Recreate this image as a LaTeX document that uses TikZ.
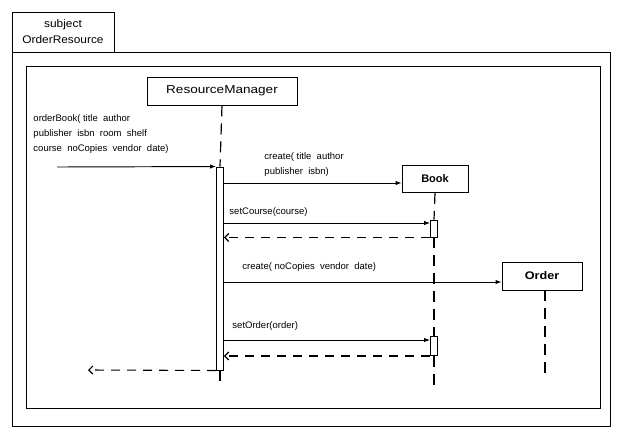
\documentclass[tikz,border=0pt]{standalone}
\usepackage{fontspec}
\setmainfont{Liberation Sans}
\usetikzlibrary{arrows.meta}
\begin{document}
\begin{tikzpicture}[x=1pt,y=-1pt,line width=0.95pt,
  objbox/.style={draw,fill=white,inner sep=0pt,font=\fontsize{11}{13}\selectfont\bfseries},
  actbar/.style={draw,fill=white,minimum width=7pt,inner sep=0pt},
  lifeline/.style={line width=1.2pt,dash pattern=on 11pt off 7pt},
  msg/.style={-{Latex[length=6pt,width=4.5pt]}},
  ret/.style={line width=1.1pt,dash pattern=on 9pt off 7pt,-{Straight Barb[length=4pt,width=8pt]}},
  lbl/.style={font=\fontsize{9.5}{15}\selectfont,inner sep=0pt,anchor=west,align=left}]
\useasboundingbox (0,0) rectangle (617,432);
% frames
\node[draw,minimum width=102pt,minimum height=40pt,inner sep=0pt,align=center,
  font=\fontsize{11}{16}\selectfont] (tab) at (63,32) {\scalebox{1.08}[1]{subject}\\\scalebox{1.08}[1]{OrderResource}};
\node[draw,minimum width=598pt,minimum height=374pt,inner sep=0pt] (outer) at (311,239) {};
\node[draw,minimum width=574pt,minimum height=342pt,inner sep=0pt] (inner) at (313,237) {};
% objects
\node[objbox,minimum width=150pt,minimum height=28pt,font=\fontsize{11.5}{13}\selectfont] (rm) at (222,91) {\scalebox{1.18}[1]{ResourceManager}};
\node[objbox,minimum width=66pt,minimum height=27pt] (book) at (435,179) {Book};
\node[objbox,minimum width=80pt,minimum height=28pt] (order) at (542,276) {\scalebox{1.15}[1]{Order}};
% activation bars
\node[actbar,minimum height=203pt] (rmact) at (220,268.5) {};
\node[actbar,minimum height=17pt] (bact1) at (434,228.5) {};
\node[actbar,minimum height=19pt] (bact2) at (434,346) {};
% lifeline ends
\coordinate (rmend) at (220,386);
\coordinate (bookend) at (434,390);
\coordinate (orderend) at (545,380);
\coordinate (obstart) at (57,167);
\coordinate (finalend) at (88,370);
% lifelines
\draw[lifeline] (rm.south) -- (rmact.north);
\draw[lifeline] (rmact.south) -- (rmend);
\draw[lifeline] (book.south) -- (bact1.north);
\draw[lifeline] (bact1.south) -- (bact2.north);
\draw[lifeline] (bact2.south) -- (bookend);
\draw[lifeline] (order.south -| orderend) -- (orderend);
% messages
\node[lbl] (t1) at (33,134) {orderBook( title\ \ author\\publisher\ \ isbn\ \ room\ \ shelf\\course\ \ noCopies\ \ vendor\ \ date)};
\draw[msg] (obstart) -- (rmact.north west);
\node[lbl] (t2) at (264,165) {create( title\ \ author\\publisher\ \ isbn)};
\draw[msg] (rmact.east |- 0,183) -- (book.west |- 0,183);
\node[lbl] (t3) at (229,212) {setCourse(course)};
\draw[msg] (rmact.east |- 0,223) -- (bact1.west |- 0,223);
\draw[ret] (bact1.south west) -- (rmact.east |- bact1.south);
\node[lbl] (t4) at (242,267) {create( noCopies\ \ vendor\ \ date)};
\draw[msg] (rmact.east |- 0,282) -- (order.west |- 0,282);
\node[lbl] (t5) at (232,326) {setOrder(order)};
\draw[msg] (rmact.east |- 0,340) -- (bact2.west |- 0,340);
\draw[ret] (bact2.south west) -- (rmact.east |- bact2.south);
\draw[ret] (rmact.south west) -- (finalend);
\end{tikzpicture}
\end{document}
